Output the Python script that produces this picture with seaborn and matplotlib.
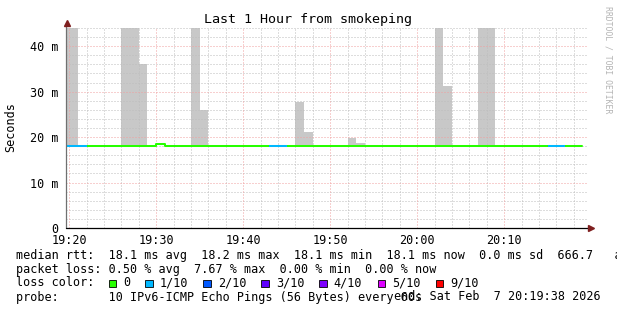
import numpy as np
import pandas as pd
import matplotlib
matplotlib.use("Agg")
import matplotlib.pyplot as plt
import seaborn as sns
from matplotlib.patches import Rectangle

# ---------------- data (minutes relative to 19:20:00) ----------------
bin_start = list(range(-1, 59))          # one-minute bins 19:19 .. 20:18
median_ms = [18.1, 18.1, 18.1, 18.1, 18.1, 18.1, 18.1, 18.1, 18.1, 18.1,
             18.1, 18.4, 18.1, 18.1, 18.1, 18.1, 18.1, 18.1, 18.1, 18.1,
             18.1, 18.1, 18.1, 18.1, 18.1, 18.1, 18.1, 18.1, 18.1, 18.1,
             18.1, 18.1, 18.1, 18.1, 18.1, 18.1, 18.1, 18.1, 18.1, 18.1,
             18.1, 18.1, 18.1, 18.1, 18.1, 18.1, 18.1, 18.1, 18.1, 18.1,
             18.1, 18.1, 18.1, 18.1, 18.1, 18.1, 18.1, 18.1, 18.1, 18.1]
loss_tenths = [1, 1, 1, 0, 0, 0, 0, 0, 0, 0,
               0, 0, 0, 0, 0, 0, 0, 0, 0, 0,
               0, 0, 0, 0, 1, 1, 0, 0, 0, 0,
               0, 0, 0, 0, 0, 0, 0, 0, 0, 0,
               0, 0, 0, 0, 0, 0, 0, 0, 0, 0,
               0, 0, 0, 0, 0, 0, 1, 1, 0, 0]
smoke_minute = [-1, 0, 6, 7, 8, 14, 15, 26, 27, 32, 33, 42, 43, 47, 48]
smoke_top_ms = [44.5, 44.5, 44.5, 44.5, 36.1, 43.9, 26.0, 27.7, 21.1,
                19.8, 18.7, 44.5, 31.3, 44.5, 44.5]

x_tick_min = [0, 10, 20, 30, 40, 50]
x_tick_labels = ["19:20", "19:30", "19:40", "19:50", "20:00", "20:10"]
y_tick_ms = [0, 10, 20, 30, 40]
y_tick_labels = ["0", "10 m", "20 m", "30 m", "40 m"]

loss_labels = ["0", "1/10", "2/10", "3/10", "4/10", "5/10", "9/10"]
loss_colors = ["#26ff00", "#00b8ff", "#0059ff", "#5e00ff", "#7e00ff", "#dd00ff", "#ff0000"]
loss_color_of = {0: "#26ff00", 1: "#00b8ff", 2: "#0059ff", 3: "#5e00ff",
                 4: "#7e00ff", 5: "#dd00ff", 9: "#ff0000"}

rtt_stats = {"avg": 18.1, "max": 18.2, "min": 18.1, "now": 18.1, "sd": 0.0, "am/as": 666.7}
loss_stats = {"avg": 0.50, "max": 7.67, "min": 0.00, "now": 0.00}

title = "Last 1 Hour from smokeping"
probe_text = "10 IPv6-ICMP Echo Pings (56 Bytes) every 60s"
end_text = "end: Sat Feb  7 20:19:38 2026"

# ---------------- style ----------------
sns.set_style("white")
plt.rcParams["font.family"] = ["DejaVu Sans Mono"]
FS = 8.5

W, H = 617, 310
fig = plt.figure(figsize=(W / 100, H / 100), dpi=100)
fig.patch.set_facecolor("white")
L, R, T, B = 66, 588, 28, 228
ax = fig.add_axes([L / W, (H - B) / H, (R - L) / W, (B - T) / H])
ax.set_facecolor("white")

x0 = -22 / 60.0
ax.set_xlim(x0, x0 + 60)
ax.set_ylim(0, 44)

# smoke bars
sm_base = [median_ms[bin_start.index(m)] for m in smoke_minute]
ax.bar(smoke_minute, np.array(smoke_top_ms) - np.array(sm_base), bottom=sm_base,
       width=1.0, align="edge", color="#c8c8c8", linewidth=0, zorder=1)

# median line (step) via seaborn
df = pd.DataFrame({"t": bin_start + [bin_start[-1] + 1],
                   "median": median_ms + [median_ms[-1]]})
sns.lineplot(data=df, x="t", y="median", drawstyle="steps-post",
             color=loss_color_of[0], linewidth=1.45, ax=ax, zorder=3)
for t, m, lv in zip(bin_start, median_ms, loss_tenths):
    if lv > 0:
        ax.hlines(m, t, t + 1, colors=loss_color_of[lv], linewidth=1.45, zorder=4)

# grid
DOT = (0, (1, 2))
for v in np.arange(2, 45, 2):
    if v % 10:
        ax.axhline(v, color="#bdbdbd", lw=0.72, ls=DOT, zorder=2.5)
for v in np.arange(-0, 60, 2):
    if v % 10:
        ax.axvline(v, color="#bdbdbd", lw=0.72, ls=DOT, zorder=2.5)
for v in y_tick_ms[1:]:
    ax.axhline(v, color="#f0a0a0", lw=0.72, ls=DOT, zorder=2.6)
for v in x_tick_min:
    ax.axvline(v, color="#f0a0a0", lw=0.72, ls=DOT, zorder=2.6)

ax.set_xticks(x_tick_min)
ax.set_xticklabels(x_tick_labels)
ax.set_yticks(y_tick_ms)
ax.set_yticklabels(y_tick_labels)
ax.set_xticks([v for v in range(0, 60, 2) if v % 10], minor=True)
ax.set_yticks([v for v in range(2, 45, 2) if v % 10], minor=True)
ax.tick_params(axis="both", which="both", length=2, width=0.7, color="#707070",
               labelsize=FS, labelcolor="black", pad=2.5, direction="out")
ax.tick_params(axis="y", pad=3.5)
ax.set_xlabel("")
ax.set_ylabel("")
for s in ax.spines.values():
    s.set_visible(False)

# axes lines & arrows
ax.plot([0, 0], [0, 1.02], transform=ax.transAxes, color="#707070", lw=0.9,
        clip_on=False, zorder=5)
ax.plot([0, 1.003], [0, 0], transform=ax.transAxes, color="black", lw=0.9,
        clip_on=False, zorder=5)
ax.plot([0.0015], [1.024], marker="^", ms=4, color="#7f1f1f", transform=ax.transAxes,
        clip_on=False, zorder=6)
ax.plot([1.0065], [0], marker=">", ms=4, color="#7f1f1f", transform=ax.transAxes,
        clip_on=False, zorder=6)

# texts
def fx(px):
    return px / W

def fy(py):
    return 1 - py / H

fig.text(fx(308), fy(19.5), title, ha="center", va="center", fontsize=9.6, color="black")
fig.text(fx(11), fy(127), "Seconds", rotation=90, ha="center", va="center",
         fontsize=FS, color="black")
fig.text(fx(608), fy(60), "RRDTOOL / TOBI OETIKER", rotation=270, ha="center",
         va="center", fontsize=5.9, color="#b4b4b4")

row1 = ("median rtt:  {:.1f} ms avg  {:.1f} ms max  {:.1f} ms min  {:.1f} ms now"
        "  {:.1f} ms sd  {:.1f}   am/as").format(rtt_stats["avg"], rtt_stats["max"],
                                                  rtt_stats["min"], rtt_stats["now"],
                                                  rtt_stats["sd"], rtt_stats["am/as"])
row2 = "packet loss: {:.2f} % avg  {:.2f} % max  {:.2f} % min  {:.2f} % now".format(
    loss_stats["avg"], loss_stats["max"], loss_stats["min"], loss_stats["now"])
fig.text(fx(16), fy(255), row1, ha="left", va="center", fontsize=FS, color="black")
fig.text(fx(16), fy(269), row2, ha="left", va="center", fontsize=FS, color="black")
fig.text(fx(16), fy(283), "loss color:", ha="left", va="center", fontsize=FS, color="black")
fig.text(fx(16), fy(297), "probe:       " + probe_text, ha="left", va="center",
         fontsize=FS, color="black")
fig.text(fx(601), fy(297), end_text, ha="right", va="center", fontsize=FS, color="black")

char_w = 0.602 * FS * 100 / 72
bx = 108.7
for lab, col in zip(loss_labels, loss_colors):
    fig.patches.append(Rectangle((fx(bx), fy(287.3)), 7.5 / W, 7.5 / H, transform=fig.transFigure,
                                 facecolor=col, edgecolor="black", linewidth=0.6))
    tx = bx + 14.3
    fig.text(fx(tx), fy(283), lab, ha="left", va="center", fontsize=FS, color="black")
    bx = tx + len(lab) * char_w + 15.3

fig.savefig("out.png", dpi=100, facecolor="white")
